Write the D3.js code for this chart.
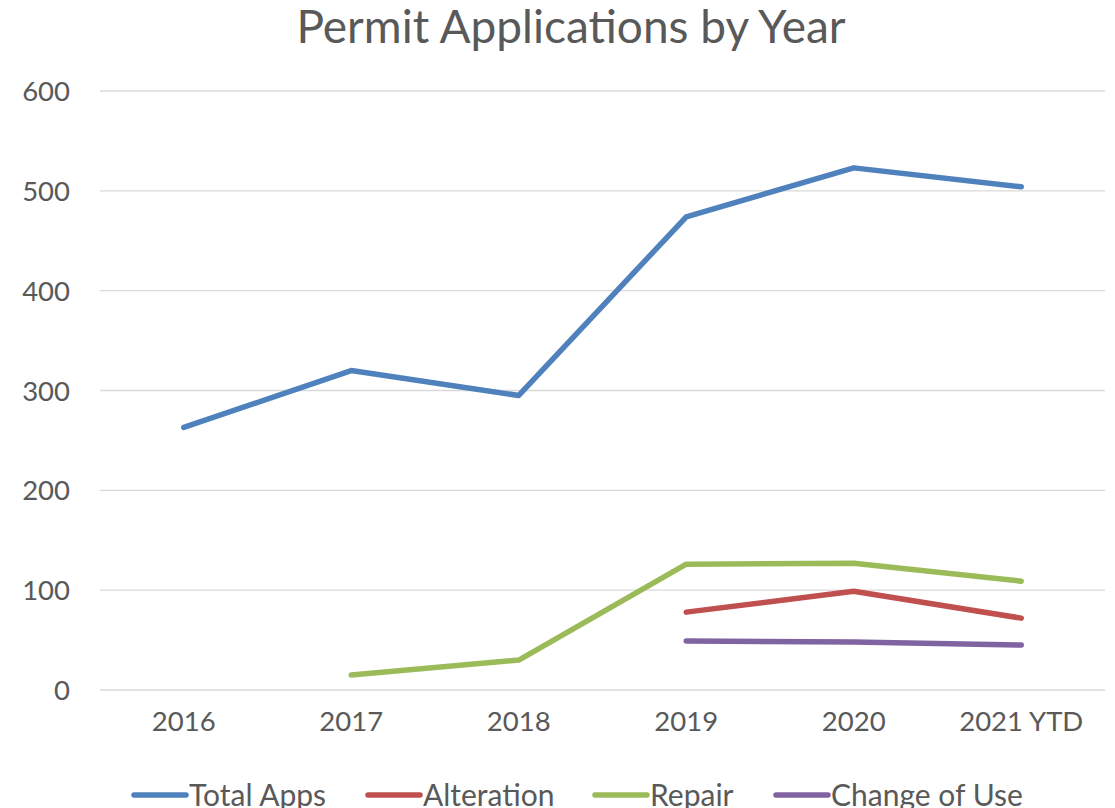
<!DOCTYPE html>
<html>
<head>
<meta charset="utf-8">
<script src="https://cdn.jsdelivr.net/npm/d3@7"></script>
<style>
  body { margin: 0; background: #fff; }
  text { font-family: Lato, "Open Sans", sans-serif; fill: #595959; }
</style>
</head>
<body>
<div id="chart"></div>
<script>
// chart data
var years = ["2016", "2017", "2018", "2019", "2020", "2021 YTD"];
var totalApps = [263, 320, 295, 474, 523, 504];
var alteration = [null, null, null, 78, 99, 72];
var repair = [null, 15, 30, 126, 127, 109];
var changeOfUse = [null, null, null, 49, 48, 45];
var yTicks = [0, 100, 200, 300, 400, 500, 600];

var seriesNames = ["Total Apps", "Alteration", "Repair", "Change of Use"];
var seriesValues = [totalApps, alteration, repair, changeOfUse];
var colors = ["#4f81bd", "#c0504d", "#9bbb59", "#8064a2"];

var width = 1115, height = 808;
var margin = {top: 91, bottom: 118, left: 100, right: 10};

var svg = d3.select("#chart")
    .append("svg")
    .attr("width", width)
    .attr("height", height);

// x is one band per year, y runs from 0 to 600
var x = d3.scaleBand()
    .domain(years)
    .range([margin.left, width - margin.right]);

var y = d3.scaleLinear()
    .domain([0, 600])
    .range([height - margin.bottom, margin.top]);

// title
svg.append("text")
    .attr("x", 571)
    .attr("y", 43)
    .attr("text-anchor", "middle")
    .style("font-size", "46px")
    .text("Permit Applications by Year");

// gridlines
svg.append("g")
    .selectAll("line")
    .data(yTicks)
    .enter().append("line")
    .attr("x1", margin.left)
    .attr("x2", width - margin.right)
    .attr("y1", function(d) { return y(d); })
    .attr("y2", function(d) { return y(d); })
    .style("stroke", "#d9d9d9")
    .style("stroke-width", 1.3);

// y axis labels
var yAxis = d3.axisLeft(y).tickValues(yTicks).tickSize(0).tickPadding(0);
var yg = svg.append("g")
    .attr("transform", "translate(70,0)")
    .call(yAxis);
yg.select(".domain").remove();
yg.selectAll("text")
    .style("font-size", "27.5px")
    .style("fill", "#595959")
    .attr("dy", "0.35em");

// x axis labels
var xAxis = d3.axisBottom(x).tickSize(0).tickPadding(0);
var xg = svg.append("g")
    .attr("transform", "translate(0," + (y(0) + 21) + ")")
    .call(xAxis);
xg.select(".domain").remove();
xg.selectAll("text")
    .style("font-size", "27.5px")
    .style("fill", "#595959")
    .attr("dy", "0.71em");

// lines, gaps where a series has no value
var line = d3.line()
    .defined(function(d) { return d != null; })
    .x(function(d, i) { return x(years[i]) + x.bandwidth() / 2; })
    .y(function(d) { return y(d); });

svg.append("g")
    .selectAll("path")
    .data(seriesValues)
    .enter().append("path")
    .attr("d", line)
    .style("fill", "none")
    .style("stroke", function(d, i) { return colors[i]; })
    .style("stroke-width", 5.5)
    .style("stroke-linecap", "round")
    .style("stroke-linejoin", "round");

// legend along the bottom
var legendX = [132, 366, 593, 774];
var legend = svg.append("g")
    .selectAll("g")
    .data(seriesNames)
    .enter().append("g")
    .attr("transform", function(d, i) { return "translate(" + legendX[i] + ",795)"; });

legend.append("line")
    .attr("x1", 2)
    .attr("x2", 54)
    .style("stroke", function(d, i) { return colors[i]; })
    .style("stroke-width", 5.5)
    .style("stroke-linecap", "round");

legend.append("text")
    .attr("x", 57)
    .attr("dy", "0.35em")
    .style("font-size", "30px")
    .text(function(d) { return d; });
</script>
</body>
</html>
